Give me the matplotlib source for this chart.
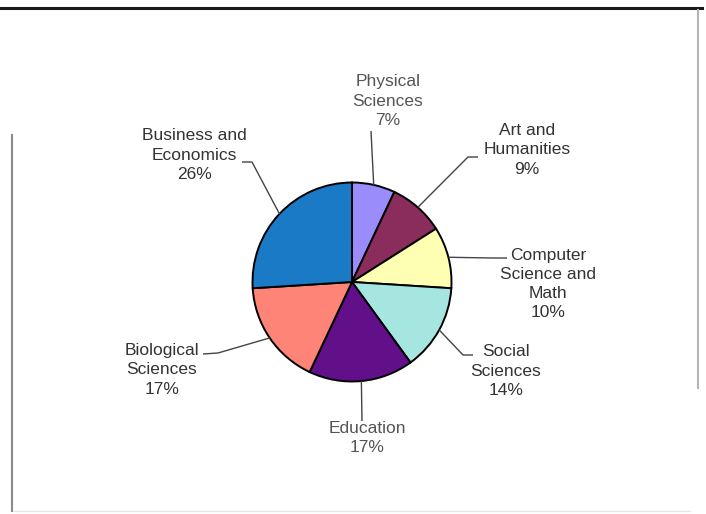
import matplotlib
matplotlib.use("Agg")
import matplotlib.pyplot as plt
import numpy as np

plt.rcParams['font.family'] = ['Liberation Sans', 'DejaVu Sans']

# Field of study shares (percent), clockwise from the top
categories = ["Physical\nSciences", "Art and\nHumanities", "Computer\nScience and\nMath",
              "Social\nSciences", "Education", "Biological\nSciences", "Business and\nEconomics"]
shares = [7, 9, 10, 14, 17, 17, 26]
colors = ["#9a8cfa", "#8a2c5c", "#ffffb4", "#a6e6e0", "#62108a", "#ff8478", "#1a7ac6"]

W, H = 706, 514

fig = plt.figure(figsize=(W / 100, H / 100), dpi=100)
ax = fig.add_axes([0, 0, 1, 1])


def py(y):
    """Convert a top-down pixel row to the axes' bottom-up coordinate."""
    return H - y


cx, cy, r = 352, 282, 99.5
wedges, _ = ax.pie(shares, colors=colors, startangle=90, counterclock=False,
                   center=(cx, py(cy)), radius=r,
                   wedgeprops=dict(edgecolor="black", linewidth=1.4))

# label text centres and leader-line bends (pixel layout, top-down y)
label_pos = [(388, 101), (527, 150), (548, 284), (506, 371), (367, 438), (162, 370), (194, 155)]
leader_pts = [
    [(371, 131)],
    [(478, 157), (468, 157)],
    [(507, 258), (492, 258)],
    [(473, 355), (463, 355)],
    [(362, 421)],
    [(203, 354), (218, 353)],
    [(242, 162), (252, 162)],
]
text_colors = ["#555555", "#333333", "#333333", "#333333", "#555555", "#333333", "#333333"]

for w, name, val, (tx, ty), pts, tc in zip(wedges, categories, shares, label_pos,
                                            leader_pts, text_colors):
    mid = np.deg2rad((w.theta1 + w.theta2) / 2)
    ex = cx + r * np.cos(mid)
    ey = py(cy) + r * np.sin(mid)
    xs = [p[0] for p in pts] + [ex]
    ys = [py(p[1]) for p in pts] + [ey]
    ax.plot(xs, ys, color="#444444", lw=1.0, solid_capstyle="butt", zorder=1)
    ax.text(tx, py(ty), f"{name}\n{val}%", ha="center", va="center",
            fontsize=12.5, color=tc, linespacing=1.35)

# surrounding frame strokes
ax.plot([0, 702], [py(7.5), py(7.5)], color="#1a1a1a", lw=2.2)
ax.plot([12, 12], [py(135), py(511)], color="#8a8a8a", lw=1.5)
ax.plot([698, 698], [py(10), py(388)], color="#b5b5b5", lw=1.5)
ax.plot([14, 690], [py(511), py(511)], color="#e6e6e6", lw=1.0)

ax.set_xlim(0, W)
ax.set_ylim(0, H)
ax.set_aspect("equal")
ax.axis("off")

fig.savefig("out.png", dpi=100, facecolor="white")
